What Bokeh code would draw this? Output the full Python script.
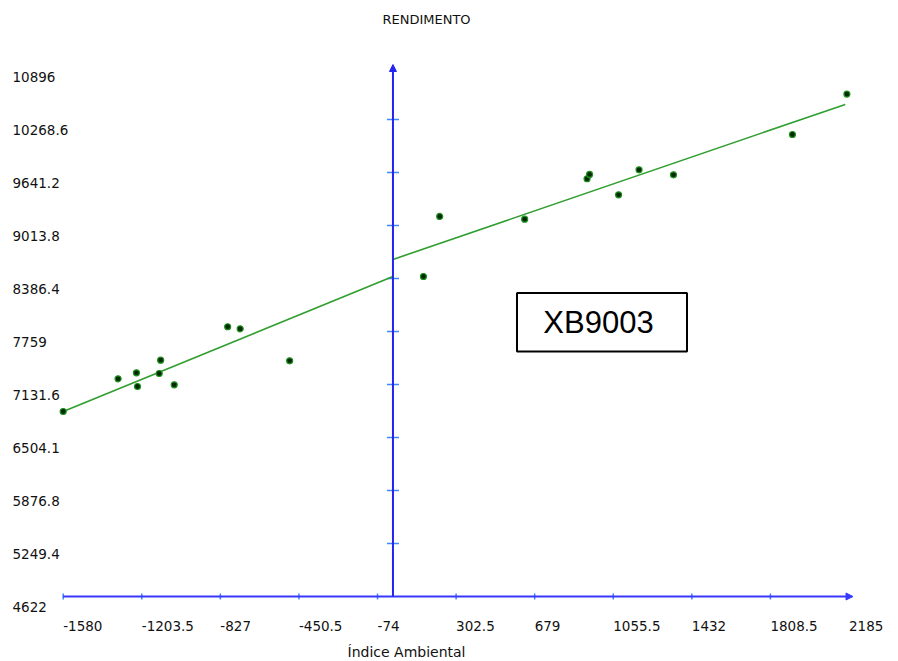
from bokeh.plotting import figure
from bokeh.models import Range1d, Arrow, NormalHead, BoxAnnotation
from bokeh.core.properties import value
from bokeh.embed import file_html
from bokeh.resources import INLINE

# ---- data -------------------------------------------------------------
title_text = "RENDIMENTO"
x_title = "Índice Ambiental"
box_text = "XB9003"

x_ticks = [-1580, -1203.5, -827, -450.5, -74, 302.5, 679, 1055.5, 1432, 1808.5, 2185]
x_tick_labels = ["-1580", "-1203.5", "-827", "-450.5", "-74", "302.5", "679",
                 "1055.5", "1432", "1808.5", "2185"]
y_ticks = [4622, 5249.4, 5876.8, 6504.1, 7131.6, 7759, 8386.4, 9013.8, 9641.2, 10268.6, 10896]
y_tick_labels = ["4622", "5249.4", "5876.8", "6504.1", "7131.6", "7759", "8386.4",
                 "9013.8", "9641.2", "10268.6", "10896"]

# environments with a negative index
left_x = [-1580, -1317, -1229, -1224, -1120, -1113, -1048, -792, -732, -495]
left_y = [6812, 7199, 7270, 7108, 7262, 7419, 7128, 7815, 7791, 7412]
# environments with a positive index
right_x = [146, 224, 631, 930, 942, 1081, 1179, 1344, 1914, 2175]
right_y = [8410, 9121, 9089, 9567, 9618, 9377, 9673, 9614, 10091, 10569]

# fitted segments (bi-segmented regression, break at index 0)
fit_left_x = [-1580, 0]
fit_left_y = [6812, 8410]
fit_right_x = [0, 2167]
fit_right_y = [8612, 10447]

# ---- canvas geometry ----------------------------------------------------
W, H = 898, 661
X_FIRST_PX, X_LAST_PX = 62.7, 848.5   # first / last x tick on the canvas
Y_FIRST_PX, Y_LAST_PX = 596.0, 66.0   # first / last y tick, from the top

sx = (X_LAST_PX - X_FIRST_PX) / (x_ticks[-1] - x_ticks[0])
sy = (Y_FIRST_PX - Y_LAST_PX) / (y_ticks[-1] - y_ticks[0])


def xd(px):
    return x_ticks[0] + (px - X_FIRST_PX) / sx


def yd(py):
    return y_ticks[0] + (Y_FIRST_PX - py) / sy


def dx(n):
    return n / sx


def dy(n):
    return n / sy


p = figure(width=W, height=H,
           x_range=Range1d(xd(0), xd(W)), y_range=Range1d(yd(H), yd(0)),
           x_axis_type=None, y_axis_type=None,
           output_backend="svg", toolbar_location=None, min_border=0)
p.grid.visible = False
p.outline_line_color = None
p.background_fill_color = "white"
p.border_fill_color = "white"

AXIS_H = "#3838ff"
AXIS_V = "#2424f0"
TICK = "#3f86ff"
GREEN = "#2f9e2f"

# horizontal axis along the bottom, with its arrow head
p.add_layout(Arrow(end=NormalHead(size=7, fill_color=AXIS_H, line_color=AXIS_H),
                   x_start=x_ticks[0], y_start=y_ticks[0],
                   x_end=x_ticks[-1] + dx(4), y_end=y_ticks[0],
                   line_color=AXIS_H, line_width=2))
p.segment(x0=x_ticks[:-1], y0=[y_ticks[0] - dy(3)] * (len(x_ticks) - 1),
          x1=x_ticks[:-1], y1=[y_ticks[0] + dy(3)] * (len(x_ticks) - 1),
          line_color=TICK, line_width=1.5)

# vertical axis through index 0
p.add_layout(Arrow(end=NormalHead(size=7, fill_color=AXIS_V, line_color=AXIS_V),
                   x_start=0, y_start=y_ticks[0],
                   x_end=0, y_end=y_ticks[-1] + dy(2),
                   line_color=AXIS_V, line_width=2))
mid_y = y_ticks[1:-1]
p.segment(x0=[-dx(6)] * len(mid_y), y0=mid_y, x1=[dx(6)] * len(mid_y), y1=mid_y,
          line_color=TICK, line_width=1.5)

# tick labels
p.text(x=[xd(12)] * len(y_ticks), y=[t - dy(10) for t in y_ticks], text=y_tick_labels,
       text_align="left", text_baseline="middle", text_color="#111111",
       text_font=value("DejaVu Sans"), text_font_size="13.5px")
p.text(x=x_ticks, y=[yd(625.5)] * len(x_ticks), text=x_tick_labels,
       text_align="left", text_baseline="middle", text_color="#111111",
       text_font=value("DejaVu Sans"), text_font_size="13.5px")

# titles
p.text(x=[xd(426)], y=[yd(19)], text=[title_text], text_align="center",
       text_baseline="middle", text_color="#111111",
       text_font=value("DejaVu Sans"), text_font_size="13px")
p.text(x=[xd(406)], y=[yd(651.5)], text=[x_title], text_align="center",
       text_baseline="middle", text_color="#111111",
       text_font=value("DejaVu Sans"), text_font_size="14px")

# fitted lines
p.line(fit_left_x, fit_left_y, line_color=GREEN, line_width=1.6)
p.line(fit_right_x, fit_right_y, line_color=GREEN, line_width=1.6)

# observations
p.scatter(left_x, left_y, marker="circle", size=6, fill_color="#002a00",
          line_color="#1f8f1f", line_width=1.2)
p.scatter(right_x, right_y, marker="circle", size=6, fill_color="#002a00",
          line_color="#1f8f1f", line_width=1.2)

# hybrid name box
p.add_layout(BoxAnnotation(left=xd(516.5), right=xd(686.5), top=yd(292.5), bottom=yd(351),
                           fill_color=None, line_color="black", line_alpha=1.0,
                           line_width=2))
p.text(x=[xd(598)], y=[yd(321.5)], text=[box_text], text_align="center",
       text_baseline="middle", text_color="black",
       text_font=value("Liberation Sans"), text_font_size="31px")

open("out.html", "w").write(file_html(p, INLINE))
